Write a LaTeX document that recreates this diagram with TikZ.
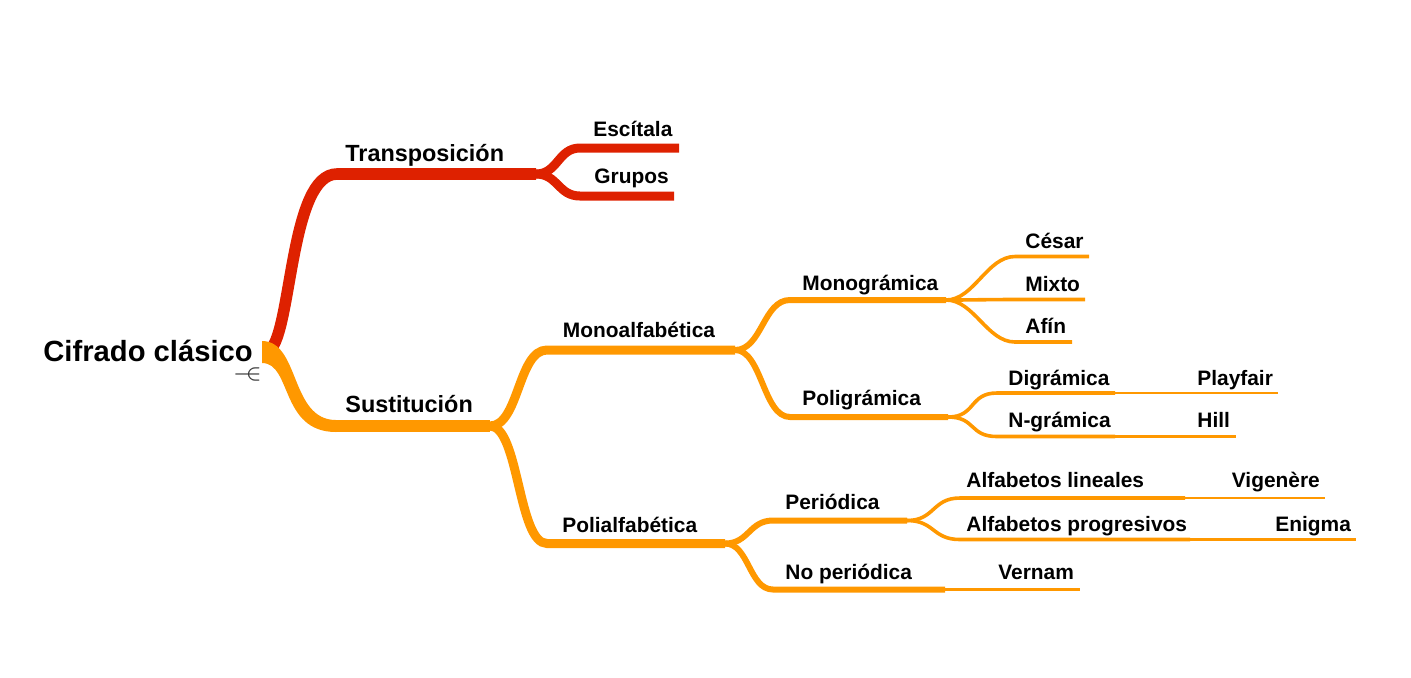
\documentclass[tikz,border=0pt]{standalone}
\usepackage{fontspec}
\setmainfont{Liberation Sans}
\definecolor{red1}{RGB}{222,33,0}
\definecolor{orange1}{RGB}{255,152,0}
\definecolor{gray1}{RGB}{60,60,60}
\tikzset{
  topic/.style={anchor=base west, inner sep=0pt, font=\bfseries\fontsize{10.45}{12}\selectfont},
  main/.style={topic, font=\bfseries\fontsize{11.7}{14}\selectfont},
  central/.style={topic, font=\bfseries\fontsize{14.6}{17}\selectfont},
  br1/.style={line width=5.8pt},
  br2/.style={line width=4.5pt},
  br3/.style={line width=3pt},
  br4/.style={line width=1.8pt},
  br5/.style={line width=1.4pt}
}

\begin{document}
\begin{tikzpicture}[x=0.5pt,y=-0.5pt]
\useasboundingbox (0,0) rectangle (1411,677);

\node[central] (root) at (43,361.5) {Cifrado clásico};
\node[inner sep=0pt, text=gray1, font=\fontsize{10}{10}\selectfont\boldmath] (ico) at (247.5,374.5) {$-\!\!\!\in$};
\node[main] (tra) at (345,161) {Transposición};
\node[main] (sus) at (345,412.5) {Sustitución};
\foreach \n/\x/\y/\t in {esc/593/136/Escítala, gru/594/183.3/Grupos,
  mono/562.5/337.3/Monoalfabética, poli/562/532.3/Polialfabética,
  monog/802/290/Monográmica, polig/802/405/Poligrámica,
  per/785/509.3/Periódica, nop/785/579.3/No periódica,
  ces/1025/248/César, mix/1025/291/Mixto, afi/1025/333/Afín,
  dig/1008/385/Digrámica, ngr/1008/427/N-grámica,
  lin/966/487/Alfabetos lineales, pro/966/531/Alfabetos progresivos,
  pla/1197/385/Playfair, hil/1197/427/Hill,
  vig/1231.5/487.3/Vigenère, eni/1275/531/Enigma, ver/998/579.3/Vernam}
  \node[topic] (\n) at (\x,\y) {\t};

\coordinate (root-r) at (270,350);
\foreach \n/\a/\b/\y in {tra/337/536/174, esc/580/679/148, gru/580/674/196,
  sus/333/490/426, mono/547/735/350, poli/547/725/543.5,
  monog/790/946/300, polig/790/948/417, per/773/907/520.5, nop/773/945/589.5,
  ces/1015/1089/256.5, mix/1015/1085/299.5, afi/1015/1072/342,
  dig/997/1115/393, ngr/997/1115/436.5, lin/960/1185/498, pro/960/1190/539.5}
{
  \coordinate (\n-a) at (\a,\y);
  \coordinate (\n-b) at (\b,\y);
}
\coordinate (pla-b) at (1278,393);
\coordinate (hil-b) at (1236,436.5);
\coordinate (vig-b) at (1325,498);
\coordinate (eni-b) at (1356,539.5);
\coordinate (ver-b) at (1080,589.5);

\draw[red1, br1] (root-r) .. controls (292,330) and (290,174) .. (tra-a) -- (tra-b);
\foreach \c in {esc,gru}
  \draw[red1, br2] (tra-b) .. controls +(22,0) and +(-22,0) .. (\c-a) -- (\c-b);

\fill[orange1] (262,341) .. controls (300,341) and (290,420) .. (336,420)
  -- (336,432) .. controls (280,432) and (292,363) .. (262,363) -- cycle;
\draw[orange1, br1] (sus-a) -- (sus-b);
\foreach \c in {mono,poli}
  \draw[orange1, br2] (sus-b) .. controls +(29,0) and +(-29,0) .. (\c-a) -- (\c-b);
\foreach \c in {monog,polig}
  \draw[orange1, br3] (mono-b) .. controls +(27,0) and +(-27,0) .. (\c-a) -- (\c-b);
\foreach \c in {per,nop}
  \draw[orange1, br3] (poli-b) .. controls +(24,0) and +(-24,0) .. (\c-a) -- (\c-b);
\foreach \p/\c in {monog/ces, monog/mix, monog/afi, polig/dig, polig/ngr, per/lin, per/pro}
  \draw[orange1, br4] (\p-b) .. controls +(28,0) and +(-28,0) .. (\c-a) -- (\c-b);
\foreach \p/\c in {dig/pla, ngr/hil, lin/vig, pro/eni, nop/ver}
  \draw[orange1, br5] (\p-b) -- (\c-b);
\end{tikzpicture}
\end{document}
